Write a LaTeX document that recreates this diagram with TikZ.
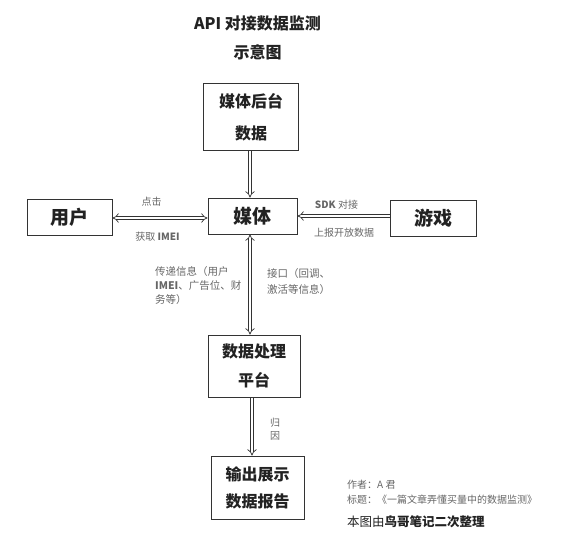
\documentclass[tikz,border=0pt]{standalone}
\usepackage{fontspec}
\setmainfont{Noto Sans CJK SC}
\usetikzlibrary{arrows.meta}
\definecolor{boxline}{HTML}{333333}
\definecolor{lbl}{HTML}{666666}
\definecolor{txt}{HTML}{222222}
\begin{document}
\begin{tikzpicture}[x=1pt,y=-1pt,
  box/.style={draw=boxline, line width=1pt, inner sep=0pt, align=center, text=txt},
  bigtxt/.style={font=\fontsize{19}{22}\selectfont\bfseries},
  twotxt/.style={font=\fontsize{16}{#1}\selectfont\bfseries},
  dbl/.style={draw=boxline, double=white, double distance=2.6pt, line width=0.7pt},
  lab/.style={text=lbl, font=\fontsize{10}{12}\selectfont, inner sep=0pt}
]
\useasboundingbox (0,0) rectangle (565,538);
% title
\node[font=\fontsize{16}{18}\selectfont\bfseries, text=txt] (t1) at (257.5,23) {API 对接数据监测};
\node[font=\fontsize{16}{18}\selectfont\bfseries, text=txt] (t2) at (257.5,52) {示意图};
% boxes
\node[box, twotxt=32, minimum width=95, minimum height=67] (backend) at (251,117) {媒体后台\\数据};
\node[box, bigtxt, minimum width=85, minimum height=36] (user) at (69.5,217) {用户};
\node[box, bigtxt, minimum width=89, minimum height=36] (media) at (252.5,216) {媒体};
\node[box, bigtxt, minimum width=86, minimum height=36] (game) at (433,218) {游戏};
\node[box, twotxt=29, minimum width=92, minimum height=62] (proc) at (254,366) {数据处理\\平台};
\node[box, twotxt=27, minimum width=93, minimum height=63] (out) at (257.5,487.5) {输出展示\\数据报告};
% connectors
\draw[dbl, -{Implies}] (backend.south -| 250,0) -- (media.north -| 250,0);
\draw[dbl, {Implies}-{Implies}] (user.east |- 0,218) -- (media.west |- 0,218);
\draw[dbl, -{Implies}] (game.west |- 0,216) -- (media.east |- 0,216);
\draw[dbl, {Implies}-{Implies}] (media.south -| 250,0) -- (proc.north -| 250,0);
\draw[dbl, -{Implies}] (proc.south -| 252,0) -- (out.north -| 252,0);
% labels
\node[lab] (l1) at (151.5,202) {点击};
\node[lab] (l2) at (157.5,237) {获取 \textbf{IMEI}};
\node[lab] (l3) at (336.5,205) {\textbf{SDK} 对接};
\node[lab] (l4) at (344,233) {上报开放数据};
\node[lab, anchor=north west, align=left, font=\fontsize{10.5}{14}\selectfont] (l5) at (155,266) {传递信息（用户\\\textbf{IMEI}、广告位、财\\务等）};
\node[lab, anchor=north west, align=left, font=\fontsize{10.5}{16}\selectfont] (l6) at (267,268) {接口（回调、\\激活等信息）};
\node[lab, anchor=north west, align=left, font=\fontsize{10}{13}\selectfont] (l7) at (270,418) {归\\因};
% credits
\node[lab, anchor=west] (c1) at (347,485) {作者：A 君};
\node[lab, anchor=west] (c2) at (347,500) {标题：《一篇文章弄懂买量中的数据监测》};
\node[anchor=west, inner sep=0pt, text=txt, font=\fontsize{12.5}{14}\selectfont] (c3) at (347,522) {本图由\textbf{鸟哥笔记二次整理}};
\end{tikzpicture}
\end{document}
